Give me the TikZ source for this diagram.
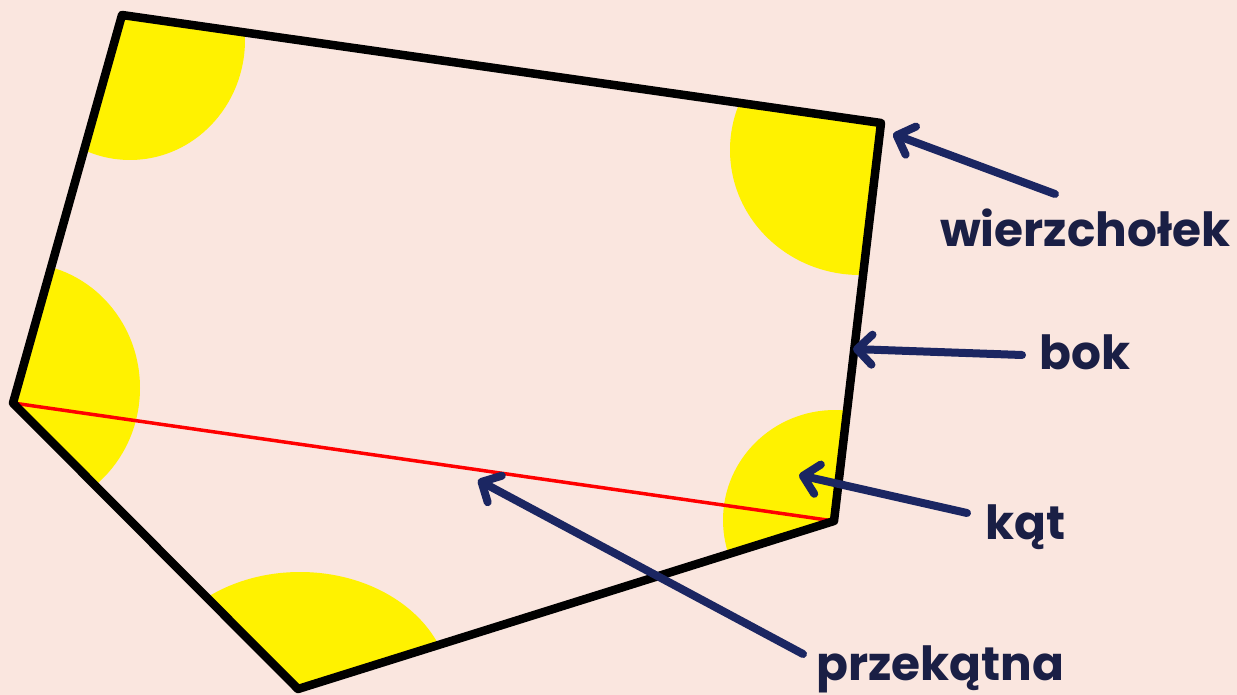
\documentclass[tikz,border=0pt]{standalone}
\usepackage{fontspec}
\setmainfont{Poppins}
\usetikzlibrary{arrows.meta}

\definecolor{bgpink}{HTML}{FAE6DF}
\definecolor{angleyellow}{HTML}{FFF200}
\definecolor{pointernavy}{HTML}{1B2662}
\definecolor{labelnavy}{HTML}{1A1F45}

\tikzset{
    side/.style={line width=8.5pt, line join=round},
    diagonal/.style={red, line width=3.5pt},
    pointer/.style={pointernavy, line width=8pt, line cap=round,
        -{Straight Barb[length=15pt, width=30pt, line cap=round, line join=round]}},
    tag/.style={labelnavy, font=\fontsize{47}{52}\selectfont\bfseries,
        anchor=base west, inner sep=0pt}
}

\begin{document}
\begin{tikzpicture}[x=1pt, y=-1pt]
    % Background
    \fill[bgpink] (0,0) rectangle (1237,695);
    \useasboundingbox (0,0) rectangle (1237,695);

    % Vertices
    \coordinate (A) at (122,15);
    \coordinate (B) at (881,123);
    \coordinate (C) at (834,521);
    \coordinate (D) at (298,689);
    \coordinate (E) at (13,403);

    % Angles
    \begin{scope}
        \clip (A) -- (B) -- (C) -- (D) -- (E) -- cycle;
        \fill[angleyellow] (130,40) ellipse (115pt and 120pt);
        \fill[angleyellow] (860,150) ellipse (130pt and 125pt);
        \fill[angleyellow] (835,520) ellipse (112pt and 110pt);
        \fill[angleyellow] (300,690) ellipse (150pt and 118pt);
        \fill[angleyellow] (20,388) ellipse (120pt and 125pt);
    \end{scope}

    % Diagonal
    \draw[diagonal] (E) -- (C);

    % Sides
    \draw[side] (A) -- (B) -- (C) -- (D) -- (E) -- cycle;

    % Labels
    \node[tag] (vertex) at (940,247) {wierzchołek};
    \node[tag] (side) at (1039,369) {bok};
    \node[tag] (angle) at (985,539) {kąt};
    \node[tag] (diag) at (816,680) {przekątna};

    % Pointers
    \coordinate (vertex tail) at (1055,194);
    \coordinate (vertex tip) at (893,134);
    \coordinate (side tail) at (1022,355);
    \coordinate (side tip) at (853,349);
    \coordinate (angle tail) at (967,513);
    \coordinate (angle tip) at (799,475);
    \coordinate (diag tail) at (803,654);
    \coordinate (diag tip) at (478,480);
    \draw[pointer] (vertex tail) -- (vertex tip);
    \draw[pointer] (side tail) -- (side tip);
    \draw[pointer] (angle tail) -- (angle tip);
    \draw[pointer] (diag tail) -- (diag tip);
\end{tikzpicture}
\end{document}
